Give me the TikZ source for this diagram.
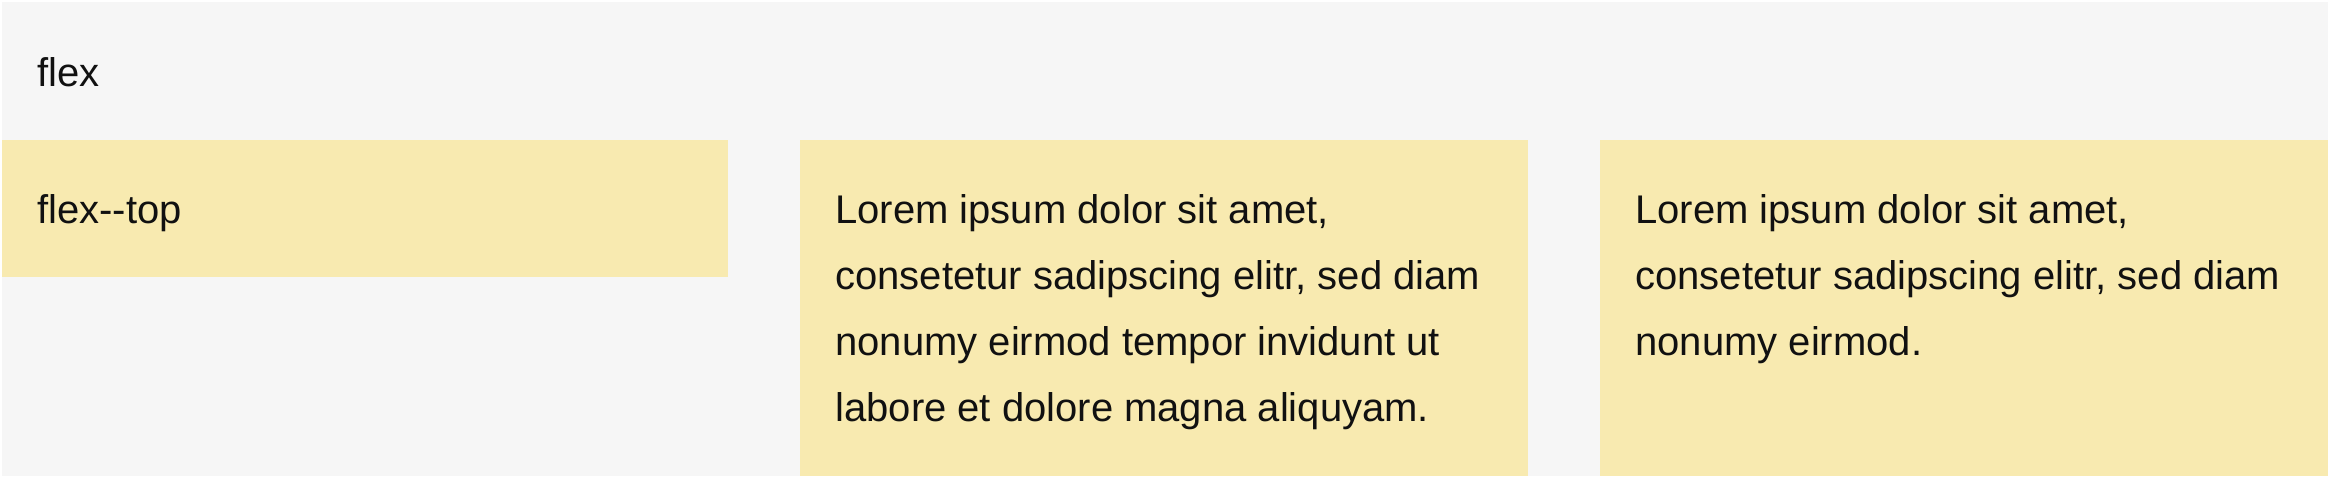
\documentclass[tikz,border=0pt]{standalone}
\usepackage{fontspec}
\setmainfont{Liberation Sans}
\definecolor{bggray}{HTML}{F6F6F6}
\definecolor{boxyellow}{HTML}{F8EAB0}
\definecolor{txt}{HTML}{111111}
\begin{document}
\begin{tikzpicture}[x=0.5pt,y=-0.5pt,
  item/.style={fill=boxyellow,draw=none},
  label/.style={anchor=base west,inner sep=0pt,text=txt,align=left,
    font=\fontsize{20}{33}\selectfont}]
\useasboundingbox (0,0) rectangle (2328,478);
\fill[white] (0,0) rectangle (2328,478);
\fill[bggray] (2,2) rectangle (2328,476);
\node[label] (title) at (37,86) {flex};
\fill[item] (2,140) rectangle (728,277);
\fill[item] (800,140) rectangle (1528,476);
\fill[item] (1600,140) rectangle (2328,476);
\node[label] (t1) at (37,223) {flex-{}-top};
% base anchor of a multi-line node is its last line's baseline
\node[label] (t2) at (835,421) {Lorem ipsum dolor sit amet,\\consetetur sadipscing elitr, sed diam\\nonumy eirmod tempor invidunt ut\\labore et dolore magna aliquyam.};
\node[label] (t3) at (1635,355) {Lorem ipsum dolor sit amet,\\consetetur sadipscing elitr, sed diam\\nonumy eirmod.};
\end{tikzpicture}
\end{document}
